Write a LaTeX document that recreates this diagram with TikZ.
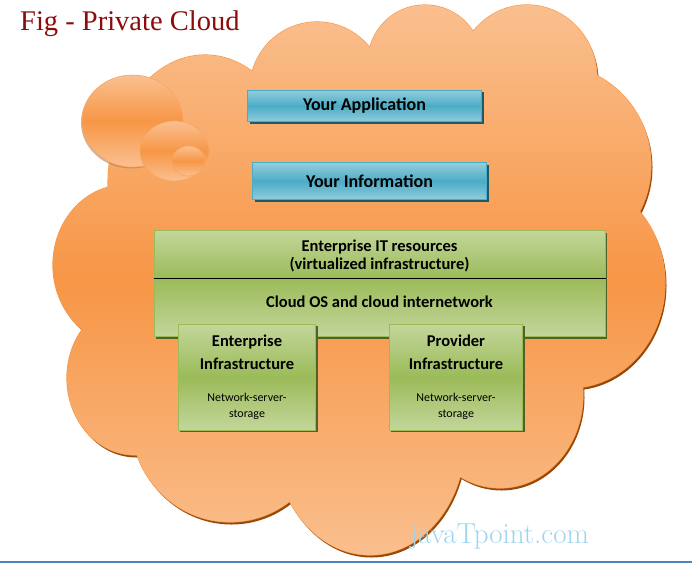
\documentclass[tikz,border=0pt]{standalone}
\usepackage{fontspec}
\newfontfamily\boxfont{Carlito}
\newfontfamily\figfont{Liberation Serif}
\usetikzlibrary{shadows}
\definecolor{cloudlight}{HTML}{FAC090}
\definecolor{cloudmid}{HTML}{F79646}
\definecolor{cloudshadow}{HTML}{984807}
\definecolor{aqualight}{HTML}{93CDDD}
\definecolor{aquamid}{HTML}{4BACC6}
\definecolor{aquashadow}{HTML}{215968}
\definecolor{olivelight}{HTML}{C3D69B}
\definecolor{olivemid}{HTML}{9BBB59}
\definecolor{oliveshadow}{HTML}{4F6228}
\definecolor{figred}{HTML}{8E0B0B}
\definecolor{marklight}{HTML}{9DD5EE}
\definecolor{rulefg}{HTML}{4F81BD}
% puffs of the cloud: x/y/x radius/y radius
\def\cloudpuffs{205/185/97/130, 317/89/67/67, 425/62/57/57, 527/78/70/73,
  550/165/101/101, 570/283/95/105, 500/395/83/93, 370/440/95/115,
  230/420/99/102, 135/378/68/77, 125/265/72/80, 375/275/220/210}
\begin{document}
\begin{tikzpicture}[x=1pt,y=-1pt,
  bluebox/.style={draw=aquamid, line width=1pt, inner sep=0pt,
    top color=aqualight, bottom color=aqualight, middle color=aquamid,
    minimum width=234pt, font=\boxfont\bfseries\fontsize{18}{20}\selectfont,
    drop shadow={shadow xshift=2pt, shadow yshift=-2pt, fill=aquashadow, opacity=1}},
  greenbox/.style={draw=olivemid, line width=1pt, inner sep=0pt,
    drop shadow={shadow xshift=2pt, shadow yshift=-2pt, fill=oliveshadow, opacity=1}},
  bigtext/.style={align=center, font=\boxfont\bfseries\fontsize{16.5}{18}\selectfont},
  infratext/.style={align=center, font=\boxfont\bfseries\fontsize{16.5}{23.3}\selectfont},
  smalltext/.style={align=center, font=\boxfont\fontsize{12}{16}\selectfont},
  ball/.style={draw=cloudmid!85, line width=0.6pt,
    top color=cloudlight, bottom color=cloudlight, middle color=cloudmid}]
  \useasboundingbox (0,0) rectangle (692,563);

  % cloud: shadow, rim, then the shaded body
  \fill[cloudshadow, shift={(1.5,2.5)}] foreach \cx/\cy/\rx/\ry in \cloudpuffs
    {(\cx,\cy) ellipse [x radius=\rx, y radius=\ry]};
  \draw[cloudmid, line width=1.2pt] foreach \cx/\cy/\rx/\ry in \cloudpuffs
    {(\cx,\cy) ellipse [x radius=\rx, y radius=\ry]};
  \begin{scope}
    \clip foreach \cx/\cy/\rx/\ry in \cloudpuffs
      {(\cx,\cy) ellipse [x radius=\rx, y radius=\ry]};
    \shade[top color=cloudlight, bottom color=cloudlight, middle color=cloudmid]
      (0,0) rectangle (692,563);
  \end{scope}

  % little balls top left
  \fill[cloudshadow!70, opacity=0.6] (131.5,122.5) ellipse [x radius=50.5, y radius=46];
  \shade[ball] (132.5,121) ellipse [x radius=50.5, y radius=46];
  \shade[ball] (174.5,151) ellipse [x radius=34.5, y radius=30];
  \shade[ball] (188.5,161) ellipse [x radius=16.5, y radius=15];

  % layers
  \node[bluebox, minimum height=31.7pt] (app) at (364.5,105.9) {Your Application};
  \node[bluebox, minimum height=37.3pt] (info) at (369.5,181.3) {Your Information};

  \node[greenbox, top color=olivelight, bottom color=olivemid,
    minimum width=451pt, minimum height=47.6pt] (itres) at (379.5,254.5) {};
  \node[greenbox, top color=olivemid, bottom color=olivelight,
    minimum width=451pt, minimum height=58.4pt] (cloudos) at (379.5,307.5) {};
  \draw[line width=0.9pt] (itres.south west) -- (itres.south east);
  \node[bigtext] (itlabel) at (379.5,256)
    {Enterprise IT resources\\(virtualized infrastructure)};
  \node[bigtext] (oslabel) at (379.5,302) {Cloud OS and cloud internetwork};

  \node[greenbox, top color=olivelight, bottom color=olivelight, middle color=olivemid,
    minimum width=137.4pt, minimum height=105.7pt] (ent) at (247,377.2) {};
  \node[greenbox, top color=olivelight, bottom color=olivelight, middle color=olivemid,
    minimum width=133.4pt, minimum height=105.7pt] (prov) at (456,377.2) {};
  \node[infratext] (entlabel) at (247,352.3) {Enterprise\\Infrastructure};
  \node[infratext] (provlabel) at (456,352.3) {Provider\\Infrastructure};
  \node[smalltext] (entnss) at (247,406.3) {Network-server-\\storage};
  \node[smalltext] (provnss) at (456,406.3) {Network-server-\\storage};

  % captions
  \node[anchor=base west, inner sep=0pt, text=figred,
    font=\figfont\fontsize{28.5}{30}\selectfont] (figtitle) at (20,30) {Fig - Private Cloud};
  \node[anchor=base west, inner sep=0pt, text=marklight,
    font=\fontsize{29}{30}\selectfont] (mark) at (410,543) {javaTpoint.com};
  \draw[rulefg, line width=1.5pt] (0,561.8) -- (692,561.8);
\end{tikzpicture}
\end{document}
